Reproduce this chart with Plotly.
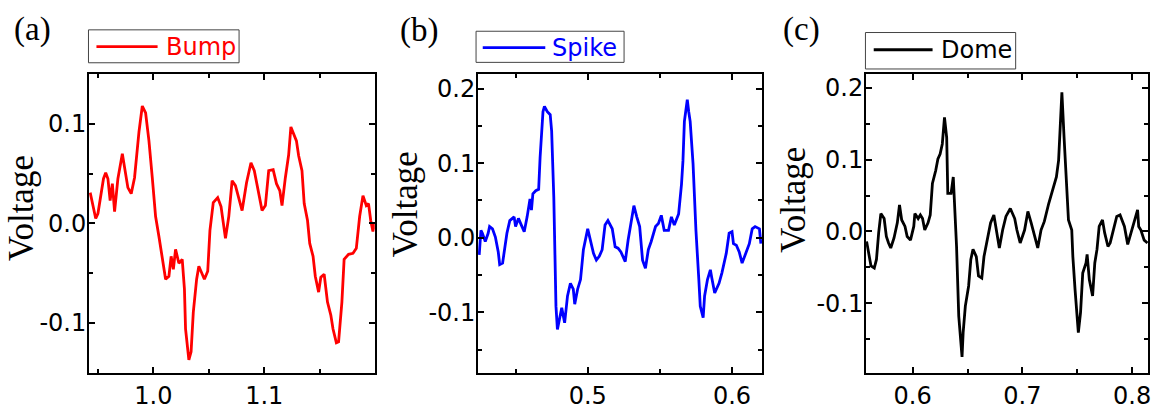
import plotly.graph_objects as go

W, H = 1156, 410

# ---------------- data ----------------
bump_t = [0.943, 0.946, 0.948, 0.950, 0.953, 0.955, 0.957, 0.959, 0.961, 0.963, 0.965, 0.968,
          0.972, 0.974, 0.977, 0.980, 0.983, 0.987, 0.990, 0.993, 0.996, 0.999, 1.002, 1.005,
          1.008, 1.011, 1.014, 1.016, 1.018, 1.020, 1.023, 1.026, 1.028, 1.029, 1.032, 1.034,
          1.036, 1.039, 1.041, 1.044, 1.046, 1.049, 1.051, 1.054, 1.058, 1.061, 1.065, 1.068,
          1.071, 1.074, 1.077, 1.080, 1.084, 1.088, 1.091, 1.095, 1.098, 1.101, 1.104, 1.108,
          1.111, 1.114, 1.116, 1.119, 1.122, 1.124, 1.126, 1.129, 1.131, 1.134, 1.136, 1.139,
          1.141, 1.144, 1.146, 1.149, 1.151, 1.154, 1.157, 1.160, 1.162, 1.165, 1.167, 1.170,
          1.172, 1.176, 1.180, 1.183, 1.186, 1.189, 1.192, 1.194, 1.196, 1.198, 1.1995]
bump_v = [0.031, 0.013, 0.005, 0.010, 0.033, 0.045, 0.051, 0.045, 0.023, 0.040, 0.012, 0.045,
          0.070, 0.056, 0.036, 0.030, 0.046, 0.092, 0.118, 0.111, 0.083, 0.046, 0.007, -0.013,
          -0.036, -0.056, -0.053, -0.033, -0.046, -0.026, -0.040, -0.036, -0.066, -0.106, -0.137, -0.129,
          -0.089, -0.056, -0.043, -0.050, -0.056, -0.048, -0.007, 0.021, 0.026, 0.017, -0.015, 0.007,
          0.043, 0.038, 0.025, 0.013, 0.041, 0.061, 0.053, 0.030, 0.013, 0.018, 0.053, 0.054,
          0.040, 0.033, 0.018, 0.046, 0.069, 0.097, 0.092, 0.083, 0.068, 0.053, 0.020, 0.003,
          -0.020, -0.033, -0.053, -0.069, -0.054, -0.051, -0.079, -0.092, -0.106, -0.120, -0.119, -0.079,
          -0.036, -0.031, -0.030, -0.025, 0.007, 0.028, 0.018, 0.020, 0.003, -0.008, 0.000]

spike_t = [0.4248, 0.426, 0.427, 0.429, 0.431, 0.432, 0.434, 0.436, 0.438, 0.439, 0.441, 0.442,
           0.444, 0.446, 0.449, 0.450, 0.452, 0.454, 0.456, 0.458, 0.460, 0.461, 0.462, 0.464,
           0.466, 0.467, 0.469, 0.470, 0.472, 0.474, 0.475, 0.4765, 0.4772, 0.478, 0.479, 0.481,
           0.482, 0.484, 0.486, 0.488, 0.490, 0.491, 0.493, 0.495, 0.497, 0.500, 0.502, 0.504,
           0.506, 0.508, 0.510, 0.512, 0.514, 0.517, 0.519, 0.521, 0.523, 0.526, 0.528, 0.531,
           0.532, 0.534, 0.536, 0.538, 0.540, 0.542, 0.544, 0.547, 0.549, 0.551, 0.553, 0.556,
           0.558, 0.560, 0.563, 0.565, 0.566, 0.567, 0.569, 0.570, 0.571, 0.573, 0.575, 0.577,
           0.578, 0.580, 0.581, 0.583, 0.585, 0.586, 0.588, 0.591, 0.593, 0.596, 0.598, 0.600,
           0.601, 0.603, 0.605, 0.607, 0.609, 0.612, 0.614, 0.616, 0.619, 0.620]
spike_v = [-0.023, 0.010, 0.006, -0.005, 0.006, 0.015, 0.012, 0.001, -0.019, -0.036, -0.034, -0.021,
           0.006, 0.023, 0.028, 0.015, 0.026, 0.017, 0.008, 0.028, 0.052, 0.037, 0.059, 0.063,
           0.065, 0.108, 0.169, 0.176, 0.169, 0.165, 0.143, 0.054, -0.034, -0.092, -0.123, -0.105,
           -0.094, -0.114, -0.078, -0.061, -0.069, -0.089, -0.069, -0.056, -0.016, 0.012, -0.003, -0.021,
           -0.030, -0.025, -0.016, 0.017, 0.023, 0.012, -0.012, -0.014, -0.019, -0.032, -0.003, 0.028,
           0.043, 0.028, 0.015, -0.030, -0.041, -0.016, -0.005, 0.015, 0.019, 0.030, 0.010, 0.010,
           0.028, 0.017, 0.032, 0.072, 0.103, 0.156, 0.185, 0.169, 0.156, 0.099, 0.010, -0.056,
           -0.092, -0.107, -0.078, -0.056, -0.043, -0.054, -0.074, -0.061, -0.047, -0.021, 0.006, 0.008,
           -0.008, -0.010, -0.019, -0.034, -0.023, -0.008, 0.012, 0.015, 0.012, -0.008]

dome_t = [0.558, 0.560, 0.562, 0.565, 0.567, 0.569, 0.571, 0.574, 0.576, 0.578, 0.580, 0.583,
          0.586, 0.588, 0.590, 0.593, 0.595, 0.598, 0.601, 0.602, 0.605, 0.607, 0.609, 0.611,
          0.614, 0.616, 0.618, 0.621, 0.623, 0.625, 0.627, 0.629, 0.631, 0.632, 0.635, 0.637,
          0.638, 0.640, 0.642, 0.645, 0.646, 0.648, 0.651, 0.653, 0.655, 0.658, 0.660, 0.663,
          0.665, 0.668, 0.671, 0.674, 0.676, 0.679, 0.682, 0.685, 0.689, 0.693, 0.695, 0.698,
          0.702, 0.705, 0.708, 0.711, 0.714, 0.717, 0.720, 0.724, 0.727, 0.729, 0.731, 0.733,
          0.735, 0.736, 0.738, 0.740, 0.742, 0.745, 0.746, 0.748, 0.751, 0.753, 0.755, 0.758,
          0.759, 0.761, 0.764, 0.766, 0.768, 0.770, 0.773, 0.775, 0.778, 0.780, 0.783, 0.786,
          0.789, 0.793, 0.796, 0.799, 0.802, 0.805, 0.806, 0.808, 0.811, 0.814]
dome_v = [-0.014, -0.030, -0.048, -0.051, -0.039, -0.002, 0.025, 0.018, -0.007, -0.016, -0.023, -0.009,
          0.012, 0.037, 0.016, 0.007, -0.007, -0.012, 0.007, 0.025, 0.018, 0.023, 0.018, 0.002,
          0.012, 0.023, 0.067, 0.085, 0.101, 0.108, 0.122, 0.159, 0.131, 0.053, 0.053, 0.076,
          0.048, -0.021, -0.118, -0.175, -0.141, -0.104, -0.076, -0.039, -0.025, -0.035, -0.062, -0.065,
          -0.035, -0.012, 0.012, 0.023, 0.002, -0.023, 0.002, 0.021, 0.032, 0.018, 0.002, -0.016,
          0.002, 0.028, 0.012, -0.005, -0.023, 0.002, 0.014, 0.039, 0.055, 0.069, 0.076, 0.099,
          0.159, 0.194, 0.131, 0.067, 0.016, 0.002, -0.035, -0.081, -0.141, -0.113, -0.058, -0.044,
          -0.032, -0.067, -0.090, -0.044, -0.025, 0.007, 0.016, -0.002, -0.021, -0.016, 0.002, 0.021,
          0.023, 0.007, -0.018, -0.002, 0.012, 0.030, 0.007, 0.002, -0.012, -0.016]

names = ["Bump", "Spike", "Dome"]
colors = ["#ff0000", "#0000ff", "#000000"]
panel_labels = ["(a)", "(b)", "(c)"]
x_ranges = [[0.942, 1.1996], [0.424, 0.621], [0.5575, 0.8145]]
y_ranges = [[-0.15, 0.1498], [-0.181, 0.219], [-0.197, 0.219]]
x_tickvals = [[1.0, 1.1], [0.5, 0.6], [0.6, 0.7, 0.8]]
x_ticktext = [["1.0", "1.1"], ["0.5", "0.6"], ["0.6", "0.7", "0.8"]]
y_tickvals = [[-0.1, 0.0, 0.1], [-0.1, 0.0, 0.1, 0.2], [-0.1, 0.0, 0.1, 0.2]]
y_ticktext = [["-0.1", "0.0", "0.1"], ["-0.1", "0.0", "0.1", "0.2"], ["-0.1", "0.0", "0.1", "0.2"]]
y_title = "Voltage"

# ---------------- layout geometry (pixels) ----------------
def px(x):
    return x / W

def py(y):
    return 1 - y / H

plot_x = [(89.3, 375.7), (479.3, 764.3), (868.3, 1151.0)]
plot_y = (75.5, 378.3)
title_pos = [(21.5, 211), (407.5, 207), (795, 203)]
label_pos = [(33, 30), (420, 31), (804, 30)]
legend_box = [(88.7, 30.3, 239.7, 63.7), (477.3, 31.7, 625.7, 63.3), (867.7, 33, 1018.3, 70)]
legend_line = [(96.7, 158, 47.3), (484, 546.7, 48.3), (876, 935, 50.5)]
legend_text_x = [164, 551.5, 941.5]

series_t = [bump_t, spike_t, dome_t]
series_v = [bump_v, spike_v, dome_v]

SANS = "DejaVu Sans, Arial, sans-serif"
SERIF = "Times New Roman, Liberation Serif, serif"

fig = go.Figure()
layout = dict(
    width=W, height=H,
    margin=dict(l=0, r=0, t=0, b=0),
    paper_bgcolor="white", plot_bgcolor="white",
    showlegend=False,
    font=dict(family=SANS, color="black"),
)
shapes, annotations = [], []
tickfont = dict(family=SANS, size=24, color="black")

for i in range(3):
    xa = "xaxis" if i == 0 else f"xaxis{i+1}"
    ya = "yaxis" if i == 0 else f"yaxis{i+1}"
    xr = "x" if i == 0 else f"x{i+1}"
    yr = "y" if i == 0 else f"y{i+1}"
    fig.add_trace(go.Scatter(x=series_t[i], y=series_v[i], mode="lines", name=names[i],
                             line=dict(color=colors[i], width=2.8),
                             xaxis=xr, yaxis=yr))
    common = dict(showgrid=False, zeroline=False, showline=True, linecolor="black", linewidth=2,
                  mirror="ticks", ticks="inside", ticklen=6, tickwidth=1.5, tickcolor="black",
                  tickfont=tickfont, tickmode="array",
                  minor=dict(ticks="inside", ticklen=4, tickwidth=1.5, tickcolor="black",
                             tickmode="linear", dtick=0.05, tick0=0))
    layout[xa] = dict(common, domain=[px(plot_x[i][0]), px(plot_x[i][1])], range=x_ranges[i],
                      anchor=yr, tickvals=x_tickvals[i], ticktext=x_ticktext[i])
    layout[ya] = dict(common, domain=[py(plot_y[1]), py(plot_y[0])], range=y_ranges[i],
                      anchor=xr, tickvals=y_tickvals[i], ticktext=y_ticktext[i],
                      ticklabelstandoff=-4)

    # axis title
    annotations.append(dict(text=y_title, x=px(title_pos[i][0]), y=py(title_pos[i][1]),
                            xref="paper", yref="paper", showarrow=False, textangle=-90,
                            xanchor="center", yanchor="middle",
                            font=dict(family=SERIF, size=35, color="black")))
    # panel label
    annotations.append(dict(text=panel_labels[i], x=px(label_pos[i][0]), y=py(label_pos[i][1]),
                            xref="paper", yref="paper", showarrow=False,
                            xanchor="center", yanchor="middle",
                            font=dict(family=SERIF, size=33, color="black")))
    # legend box
    bx0, by0, bx1, by1 = legend_box[i]
    shapes.append(dict(type="rect", xref="paper", yref="paper",
                       x0=px(bx0), x1=px(bx1), y0=py(by1), y1=py(by0),
                       line=dict(color="#444444", width=1), fillcolor="white"))
    lx0, lx1, ly = legend_line[i]
    shapes.append(dict(type="line", xref="paper", yref="paper",
                       x0=px(lx0), x1=px(lx1), y0=py(ly), y1=py(ly),
                       line=dict(color=colors[i], width=2.8)))
    annotations.append(dict(text=names[i], x=px(legend_text_x[i]), y=py(ly),
                            xref="paper", yref="paper", showarrow=False,
                            xanchor="left", yanchor="middle",
                            font=dict(family=SANS, size=24, color=colors[i])))

layout["shapes"] = shapes
layout["annotations"] = annotations
fig.update_layout(**layout)
fig.write_html("out.html")
